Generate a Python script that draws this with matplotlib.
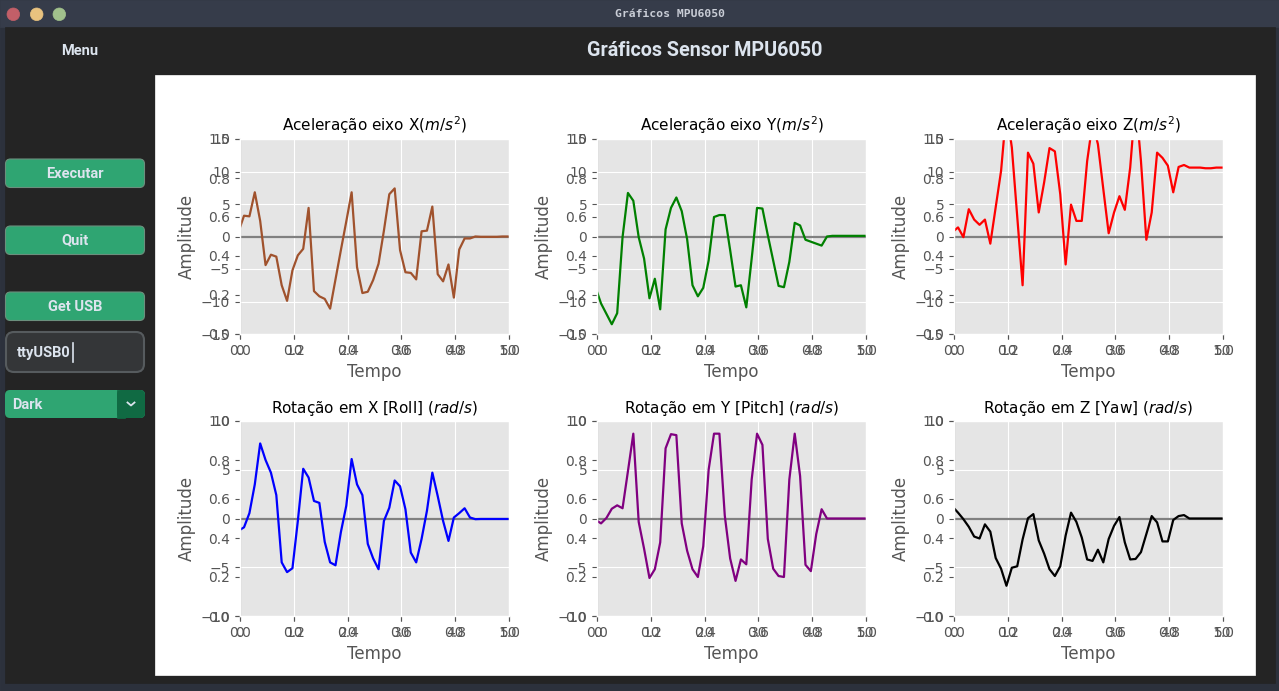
import numpy as np
import matplotlib
matplotlib.use("Agg")
import matplotlib.pyplot as plt
from matplotlib.patches import Rectangle, FancyBboxPatch, Circle

plt.style.use("ggplot")

# ---------------- data ----------------
tempo = np.arange(-0.25, 50, 1.0)  # sample times (51 samples)

acc_x = [0.8, 3.2, 3.1, 6.8, 2.4, -4.4, -2.8, -3.1, -7.5, -9.9,
         -5.2, -2.9, -1.9, 4.4, -8.4, -9.2, -9.6, -11.1, -6.6, -2.1,
         2.3, 6.8, -4.7, -8.7, -8.5, -6.7, -4.2, 0.9, 6.5, 7.4,
         -2.1, -5.5, -5.6, -6.6, 0.8, 0.9, 4.6, -5.8, -6.9, -4.3,
         -9.4, -2.0, -0.3, -0.3, 0.0, -0.05, -0.05, -0.05, -0.05, 0.0, 0.0]
acc_y = [-7.9, -10.3, -11.9, -13.5, -11.8, -0.1, 6.7, 5.5, -0.1, -3.4,
         -9.5, -6.5, -11.2, 1.1, 4.4, 6.0, 3.9, -0.4, -7.5, -9.2,
         -7.9, -3.7, 3.0, 3.3, 3.3, -2.1, -7.7, -7.5, -10.9, -3.4,
         4.4, 4.3, 0.2, -3.7, -7.6, -7.8, -3.9, 2.1, 1.7, -0.5,
         -0.8, -1.1, -1.4, 0.0, 0.1, 0.1, 0.1, 0.1, 0.1, 0.1, 0.1]
acc_z = [0.7, 1.4, -0.1, 4.2, 2.6, 1.8, 2.6, -1.1, 4.5, 10.1,
         19.5, 13.7, 3.1, -7.5, 12.9, 11.2, 3.7, 8.3, 13.6, 13.1,
         6.5, -4.3, 4.9, 2.4, 2.4, 11.6, 17.5, 14.2, 7.3, 0.5,
         3.7, 6.2, 4.1, 10.6, 21.0, 11.6, -0.5, 3.7, 12.9, 12.1,
         10.9, 6.8, 10.7, 11.0, 10.6, 10.6, 10.6, 10.5, 10.5, 10.6, 10.6]
rot_x = [-1.25, -0.9, 0.55, 3.5, 7.7, 6.0, 4.7, 2.4, -4.5, -5.5,
         -5.1, -0.25, 5.1, 4.2, 1.8, 1.6, -2.4, -4.5, -4.8, -1.4,
         1.3, 6.1, 3.5, 2.4, -2.6, -4.1, -5.2, -0.25, 1.1, 3.9,
         3.3, 0.95, -3.5, -4.5, -2.1, 0.8, 4.7, 2.3, -0.25, -2.3,
         0.1, 0.55, 1.05, 0.1, -0.07, -0.05, -0.05, -0.05, -0.05, -0.05, -0.05]
rot_y = [-0.15, -0.5, 0.05, 1.0, 1.35, 1.05, 4.85, 8.7, -0.35, -3.1,
         -6.1, -5.2, -2.45, 7.2, 8.65, 8.55, -0.5, -3.3, -5.2, -6.0,
         -2.85, 5.0, 8.7, 8.7, 0.3, -4.1, -6.4, -4.2, -4.7, 4.0,
         8.7, 7.55, -2.1, -5.15, -5.9, -6.0, 4.0, 8.7, 4.35, -4.75,
         -5.4, -1.6, 0.95, 0.0, 0.0, 0.0, 0.0, 0.0, 0.0, 0.0, 0.0]
rot_z = [1.2, 0.6, -0.07, -0.85, -1.85, -2.05, -0.6, -1.35, -4.05, -5.15,
         -6.9, -5.05, -4.9, -2.15, 0.03, 0.45, -2.25, -3.6, -5.2, -5.9,
         -4.9, -1.75, 0.6, -0.35, -1.95, -4.2, -4.35, -3.2, -4.5, -2.1,
         -0.75, 0.15, -2.45, -4.2, -4.15, -3.45, -1.6, 0.25, -0.4, -2.35,
         -2.35, -0.15, 0.25, 0.35, 0.0, 0.0, 0.0, 0.0, 0.0, 0.0, 0.0]

series = [acc_x, acc_y, acc_z, rot_x, rot_y, rot_z]
colors = ["sienna", "green", "red", "blue", "purple", "black"]
titles = ["Aceleração eixo X($m/s^2$)", "Aceleração eixo Y($m/s^2$)",
          "Aceleração eixo Z($m/s^2$)", "Rotação em X [Roll] ($rad/s$)",
          "Rotação em Y [Pitch] ($rad/s$)", "Rotação em Z [Yaw] ($rad/s$)"]
acc_yticks = [-15, -10, -5, 0, 5, 10, 15]
rot_yticks = [-10, -5, 0, 5, 10]

W, H = 1279, 691
fig = plt.figure(figsize=(W / 100, H / 100), dpi=100)
fig.patch.set_facecolor("#353b49")

# ---------------- GUI chrome ----------------
bg = fig.add_axes([0, 0, 1, 1])
bg.set_xlim(0, W)
bg.set_ylim(H, 0)
bg.axis("off")
bg.set_facecolor("none")

bg.add_patch(Rectangle((0, 0), W, H, color="#2c313c", zorder=0))
bg.add_patch(Rectangle((0, 0), W, 27, color="#363c4a", zorder=1))
bg.add_patch(Rectangle((5, 27), 1270, 656, color="#242424", zorder=1))
bg.add_patch(Rectangle((155, 75), 1100, 600, color="white", zorder=2))

for cx, col in [(13.3, "#c25f68"), (36.7, "#e8c27f"), (59.3, "#a1c18c")]:
    bg.add_patch(Circle((cx, 14.3), 6.3, color=col, zorder=3))
bg.text(670, 14, "Gráficos MPU6050", family="DejaVu Sans Mono", weight="bold",
        fontsize=8.2, color="#c9cdd6", ha="center", va="center", zorder=3)

txtcol = "#dce4ee"
bg.text(80, 51, "Menu", family="Roboto", weight="bold", fontsize=10.5,
        color=txtcol, ha="center", va="center", zorder=3)
bg.text(705, 50, "Gráficos Sensor MPU6050", family="Roboto", weight="bold",
        fontsize=14.2, color=txtcol, ha="center", va="center", zorder=3)

green = "#2fa572"
for y0, label in [(159, "Executar"), (226, "Quit"), (292, "Get USB")]:
    bg.add_patch(FancyBboxPatch((5.5, y0), 139, 28.5,
                                boxstyle="round,pad=0,rounding_size=5",
                                fc=green, ec="#6b8f7d", lw=0.8, zorder=3))
    bg.text(75, y0 + 14.5, label, family="Roboto", weight="bold", fontsize=10.5,
            color=txtcol, ha="center", va="center", zorder=4)

bg.add_patch(FancyBboxPatch((6, 332), 138, 40,
                            boxstyle="round,pad=0,rounding_size=8",
                            fc="#343638", ec="#565b5e", lw=1.5, zorder=3))
bg.text(17, 352.5, "ttyUSB0", family="Roboto", weight="bold", fontsize=10.5,
        color=txtcol, ha="left", va="center", zorder=4)
bg.plot([73, 73], [343, 362], color=txtcol, lw=1.2, zorder=4)

bg.add_patch(FancyBboxPatch((5, 390), 140, 28,
                            boxstyle="round,pad=0,rounding_size=5",
                            fc=green, ec="none", zorder=3))
bg.add_patch(FancyBboxPatch((117, 390), 28, 28,
                            boxstyle="round,pad=0,rounding_size=5",
                            fc="#106a43", ec="none", zorder=3))
bg.add_patch(Rectangle((117, 390), 8, 28, color="#106a43", zorder=3))
bg.text(12, 404.5, "Dark", family="Roboto", weight="bold", fontsize=10.5,
        color=txtcol, ha="left", va="center", zorder=4)
bg.plot([127.5, 131, 134.5], [402.5, 405.5, 402.5], color=txtcol, lw=1.3, zorder=4)

# ---------------- plots ----------------
col_left = [240, 597, 954]
row_top = [139, 421]
aw, ah = 269, 195

for i in range(6):
    r, c = divmod(i, 3)
    rect = [col_left[c] / W, 1 - (row_top[r] + ah) / H, aw / W, ah / H]
    ax0 = fig.add_axes(rect, label=f"base{i}")
    ax = fig.add_axes(rect, label=f"plot{i}")
    ax.axhline(0, color="gray", lw=1.6)
    ax.axvline(0, color="gray", lw=1.6)
    ax.plot(tempo, series[i], color=colors[i], lw=1.6)
    ax.set_xlim(0, 50)
    if r == 0:
        ax.set_ylim(-15, 15)
        ax.set_yticks(acc_yticks)
    else:
        ax.set_ylim(-10, 10)
        ax.set_yticks(rot_yticks)
    ax.set_title(titles[i], fontsize=11, color="black")
    ax.set_xlabel("Tempo")
    ax.set_ylabel("Amplitude")

fig.savefig("out.png", dpi=100)
